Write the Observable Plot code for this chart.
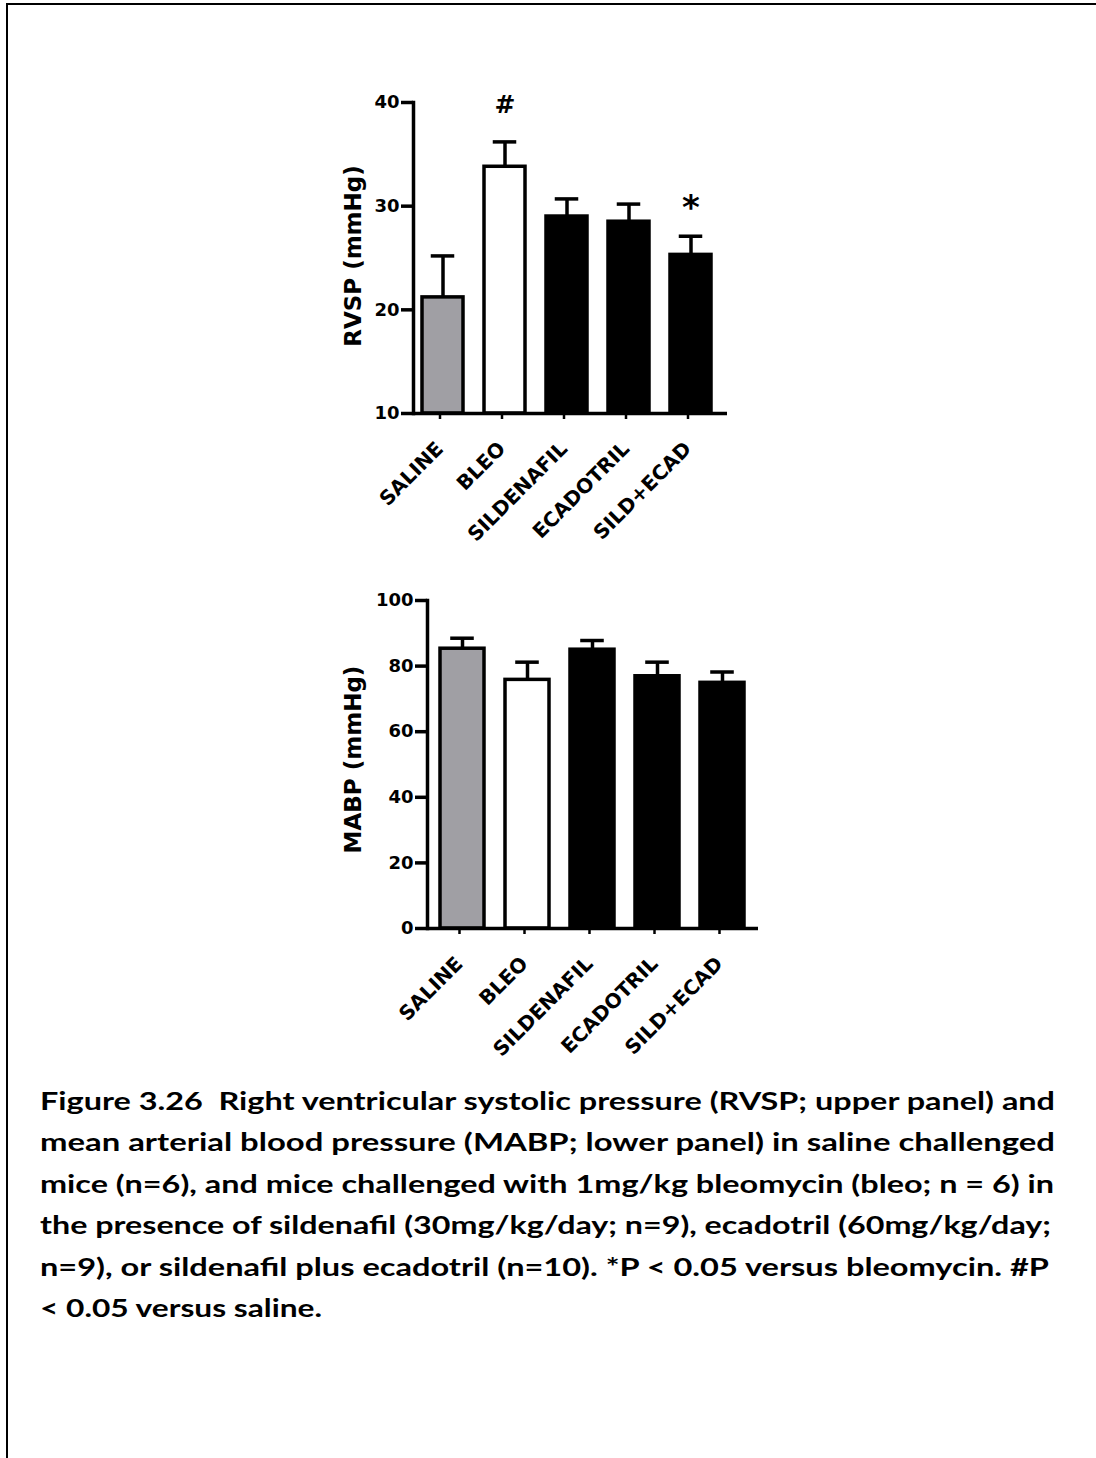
<!DOCTYPE html>
<html>
<head>
<meta charset="utf-8">
<script src="https://cdn.jsdelivr.net/npm/d3@7"></script>
<script src="https://cdn.jsdelivr.net/npm/@observablehq/plot@0.6"></script>
<style>
  html, body { margin: 0; padding: 0; background: #fff; }
  #page { position: relative; width: 1096px; height: 1458px; overflow: hidden; background: #fff; }
  #frame { position: absolute; left: 6px; top: 3px; right: -10px; bottom: -10px;
           border-left: 2.5px solid #000; border-top: 2.5px solid #000; }
  #rvsp { position: absolute; left: 320px; top: 80px; }
  #mabp { position: absolute; left: 320px; top: 570px; }
  #rvsp svg, #mabp svg { background: transparent; overflow: visible; }
  #caption { position: absolute; left: 40px; top: 1080px; font-family: Lato, "Open Sans", sans-serif;
             font-weight: bold; font-size: 25px; line-height: 41.4px; color: #000; }
  #caption .line { white-space: pre; height: 41.4px; }
  #caption .line span { display: inline-block; transform-origin: 0 50%; }
</style>
</head>
<body>
<div id="page">
  <div id="frame"></div>
  <div id="rvsp"></div>
  <div id="mabp"></div>
  <div id="caption"></div>
</div>
<script>
// Treatment groups and their bar fills
const groups = ["SALINE", "BLEO", "SILDENAFIL", "ECADOTRIL", "SILD+ECAD"];
const groupFill = ["#a09fa4", "#ffffff", "#000000", "#000000", "#000000"];

// Right ventricular systolic pressure, mean and SEM (mmHg)
const rvspMean = [21.2, 33.8, 29.0, 28.5, 25.3];
const rvspSem = [4.0, 2.4, 1.7, 1.7, 1.8];
const rvspSignif = ["", "#", "", "", "*"];
const rvspTicks = [10, 20, 30, 40];

// Mean arterial blood pressure, mean and SEM (mmHg)
const mabpMean = [85.3, 75.8, 85.0, 76.9, 74.9];
const mabpSem = [3.2, 5.4, 2.8, 4.3, 3.3];
const mabpSignif = ["", "", "", "", ""];
const mabpTicks = [0, 20, 40, 60, 80, 100];

const captionLines = [
  "Figure 3.26  Right ventricular systolic pressure (RVSP; upper panel) and",
  "mean arterial blood pressure (MABP; lower panel) in saline challenged",
  "mice (n=6), and mice challenged with 1mg/kg bleomycin (bleo; n = 6) in",
  "the presence of sildenafil (30mg/kg/day; n=9), ecadotril (60mg/kg/day;",
  "n=9), or sildenafil plus ecadotril (n=10). *P < 0.05 versus bleomycin. #P",
  "< 0.05 versus saline."
];
// right edge of each caption line (the block is set flush to these)
const captionRight = [1055, 1055, 1054, 1051, 1049, 322];

const FONT = "'DejaVu Sans', 'Liberation Sans', Arial, sans-serif";
const LW = 3.5;

function panel(o) {
  const rows = groups.map((g, i) => ({
    group: g, mean: o.mean[i], upper: o.mean[i] + o.sem[i], signif: o.signif[i]
  }));
  const base = o.ticks[0];
  const top = o.ticks[o.ticks.length - 1];
  const W = o.width - o.marginLeft - o.marginRight;
  const step = W / (groups.length - o.paddingInner + 2 * o.paddingOuter);
  const bw = step * (1 - o.paddingInner);
  const capInset = (bw - o.capWidth) / 2;
  return Plot.plot({
    width: o.width, height: o.height,
    marginLeft: o.marginLeft, marginRight: o.marginRight,
    marginTop: o.marginTop, marginBottom: o.marginBottom,
    style: { fontFamily: FONT, fontWeight: "bold", fontSize: "18px", color: "#000", background: "transparent", overflow: "visible" },
    x: { domain: groups, paddingInner: o.paddingInner, paddingOuter: o.paddingOuter, align: o.align, label: null },
    y: { domain: [base, top], label: null },
    color: { domain: groups, range: groupFill },
    marks: [
      // upper error whiskers with caps
      Plot.ruleX(rows, { x: "group", y1: "mean", y2: "upper", stroke: "#000", strokeWidth: LW }),
      Plot.tickY(rows, { x: "group", y: "upper", stroke: "#000", strokeWidth: LW, inset: capInset }),
      // bars
      Plot.barY(rows, { x: "group", y1: base, y2: "mean", fill: "group", stroke: "#000", strokeWidth: LW }),
      // significance symbols above whiskers
      Plot.text(rows.filter(d => d.signif === "#"), { x: "group", y: "upper", text: "signif", dy: -37, fontSize: 25, fontWeight: "bold", fill: "#000" }),
      Plot.text(rows.filter(d => d.signif === "*"), { x: "group", y: "upper", text: "signif", dy: -28, fontSize: 34, fontWeight: "bold", fill: "#000" }),
      // axes
      Plot.axisY({ ticks: o.ticks, tickSize: 12, tickPadding: 2, strokeWidth: LW, fontSize: 18, fontWeight: "bold", label: null }),
      Plot.axisX({ tickRotate: -45, tickSize: 6, tickPadding: 26, dx: -3, strokeWidth: 2.5, fontSize: 20, fontWeight: "bold", label: null }),
      Plot.frame({ anchor: "left", strokeWidth: LW }),
      Plot.ruleY([base], { strokeWidth: LW }),
      Plot.text([o.label], { frameAnchor: "left", textAnchor: "middle", rotate: -90, dx: o.labelDx, dy: o.labelDy, fontSize: 23, fontWeight: "bold", fill: "#000" })
    ]
  });
}

document.getElementById("rvsp").appendChild(panel({
  mean: rvspMean, sem: rvspSem, signif: rvspSignif, ticks: rvspTicks, label: "RVSP (mmHg)",
  width: 420, height: 480, marginLeft: 93, marginRight: 13, marginTop: 22, marginBottom: 147,
  paddingInner: 0.335, paddingOuter: 0.1835, align: 0.382, capWidth: 24, labelDx: -60, labelDy: -2
}));

document.getElementById("mabp").appendChild(panel({
  mean: mabpMean, sem: mabpSem, signif: mabpSignif, ticks: mabpTicks, label: "MABP (mmHg)",
  width: 450, height: 495, marginLeft: 107, marginRight: 12, marginTop: 30, marginBottom: 137,
  paddingInner: 0.32, paddingOuter: 0.193, align: 0.478, capWidth: 24, labelDx: -73.5, labelDy: -5
}));

// Caption: one row per line, each stretched to its right edge
const cap = document.getElementById("caption");
const spans = captionLines.map(t => {
  const div = document.createElement("div");
  div.className = "line";
  const span = document.createElement("span");
  span.textContent = t;
  div.appendChild(span);
  cap.appendChild(div);
  return span;
});
function fitCaption() {
  spans.forEach((s, i) => {
    s.style.transform = "none";
    const w = s.getBoundingClientRect().width;
    const target = captionRight[i] - 40;
    s.style.transform = `scaleX(${target / w})`;
  });
}
fitCaption();
if (document.fonts && document.fonts.ready) document.fonts.ready.then(fitCaption);
</script>
</body>
</html>
